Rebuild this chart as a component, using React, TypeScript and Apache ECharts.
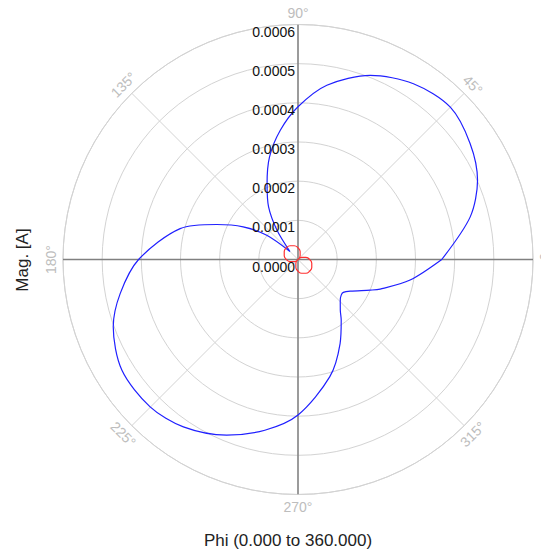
import React, { useEffect, useRef } from "react";
import * as echarts from "echarts";

// Phi (degrees) and magnitude [A] of the blue trace
const bluePhi = [0, 13.9, 23.8, 34, 45, 56.7, 68.6, 80.6, 90, 97.8, 105.5, 112.2, 119.2, 125.6, 135, 142.2, 149.2, 156.7, 165.3, 180, 190.8, 200, 212.1, 224.9, 235.6, 247.9, 259, 270, 285.2, 296.6, 305.5, 310, 316, 320.5, 324, 328.8, 337, 340.2, 349.6, 360];
const blueMag = [0.000367, 0.000453, 0.000501, 0.00053, 0.00055, 0.000537, 0.000505, 0.000451, 0.00039, 0.000333, 0.000272, 0.000209, 0.000154, 0.000092, 0.000029, 0.000101, 0.000163, 0.000226, 0.000311, 0.000407, 0.000462, 0.000502, 0.000531, 0.000533, 0.000518, 0.000484, 0.000444, 0.000397, 0.00031, 0.00024, 0.00019, 0.000168, 0.00015, 0.000143, 0.000143, 0.000156, 0.0002, 0.000223, 0.000291, 0.000367];

// Phi (degrees) and magnitude [A] of the red trace
const redPhi = [0, 15, 30, 45, 60, 75, 90, 105, 120, 135, 150, 165, 180, 195, 210, 225, 240, 255, 270, 285, 300, 315, 330, 345, 360];
const redMag = [0.0000297, 0.000021, 0.0000109, 0, 0.0000109, 0.000021, 0.0000297, 0.0000364, 0.0000406, 0.000042, 0.0000406, 0.0000364, 0.0000297, 0.000021, 0.0000109, 0, 0.0000109, 0.000021, 0.0000297, 0.0000364, 0.0000406, 0.000042, 0.0000406, 0.0000364, 0.0000297];

const angleTicks = [0, 45, 90, 135, 180, 225, 270, 315];
const angleTickLabels = ["0°", "45°", "90°", "135°", "180°", "225°", "270°", "315°"];
const radiusMax = 0.0006;
const radiusStep = 0.0001;

const xTitle = "Phi (0.000 to 360.000)";
const yTitle = "Mag. [A]";

const FONT = "'Liberation Sans', Arial, Helvetica, sans-serif";
const CX = 298;
const CY = 259.5;
const R = 235;

export default function App() {
  const ref = useRef<HTMLDivElement>(null);
  useEffect(() => {
    if (!ref.current) return;
    const chart = echarts.init(ref.current, undefined, { renderer: "svg" });
    const labelDist = R + 12;
    const angleGraphics = angleTicks.map((a, i) => {
      const rad = (a * Math.PI) / 180;
      const rotDeg = a <= 180 ? a - 90 : a - 270;
      return {
        type: "text",
        x: CX + labelDist * Math.cos(rad),
        y: CY - labelDist * Math.sin(rad),
        rotation: (rotDeg * Math.PI) / 180,
        silent: true,
        style: {
          text: angleTickLabels[i],
          fill: "#bdbdbd",
          font: `14px ${FONT}`,
          align: "center",
          verticalAlign: "middle",
        },
      };
    });
    const option: any = {
      animation: false,
      backgroundColor: "#ffffff",
      polar: [
        { center: [CX, CY], radius: R },
        { center: [CX, CY], radius: R },
      ],
      angleAxis: [
        {
          polarIndex: 0,
          type: "value",
          min: 0,
          max: 360,
          interval: 45,
          startAngle: 0,
          clockwise: false,
          axisLine: { show: true, lineStyle: { color: "#d3d3d3", width: 1 } },
          axisTick: { show: false },
          axisLabel: { show: false },
          splitLine: { show: true, lineStyle: { color: "#d3d3d3", width: 1 } },
        },
        {
          polarIndex: 1,
          type: "value",
          min: 0,
          max: 360,
          startAngle: 90,
          clockwise: false,
          axisLine: { show: false },
          axisTick: { show: false },
          axisLabel: { show: false },
          splitLine: { show: false },
        },
      ],
      radiusAxis: [
        {
          polarIndex: 0,
          type: "value",
          min: 0,
          max: radiusMax,
          interval: radiusStep,
          axisLine: { show: false },
          axisTick: { show: false },
          axisLabel: { show: false },
          splitLine: { show: true, lineStyle: { color: "#d3d3d3", width: 1 } },
        },
        {
          polarIndex: 1,
          type: "value",
          min: 0,
          max: radiusMax,
          interval: radiusStep,
          z: 10,
          axisLine: { show: false },
          axisTick: { show: false },
          splitLine: { show: false },
          axisLabel: {
            show: true,
            margin: 3,
            color: "#111",
            fontSize: 14,
            fontFamily: FONT,
            verticalAlign: "top",
            formatter: (v: number) => v.toFixed(4),
          },
        },
      ],
      series: [
        {
          type: "line",
          coordinateSystem: "polar",
          polarIndex: 0,
          data: [[radiusMax, 0], [0, 0], [radiusMax, 180]],
          showSymbol: false,
          silent: true,
          lineStyle: { color: "#808080", width: 1.5 },
          z: 1,
        },
        {
          type: "line",
          coordinateSystem: "polar",
          polarIndex: 0,
          data: [[radiusMax, 90], [0, 90], [radiusMax, 270]],
          showSymbol: false,
          silent: true,
          lineStyle: { color: "#808080", width: 1.5 },
          z: 1,
        },
        {
          type: "line",
          coordinateSystem: "polar",
          polarIndex: 0,
          data: bluePhi.map((p, i) => [blueMag[i], p]),
          showSymbol: false,
          smooth: 0.3,
          lineStyle: { color: "#2020ff", width: 1.2 },
          z: 3,
        },
        {
          type: "line",
          coordinateSystem: "polar",
          polarIndex: 0,
          data: redPhi.map((p, i) => [redMag[i], p]),
          showSymbol: false,
          smooth: true,
          lineStyle: { color: "#ff3030", width: 1.2 },
          z: 4,
        },
      ],
      graphic: [
        ...angleGraphics,
        {
          type: "text",
          x: 288,
          y: 540,
          silent: true,
          style: {
            text: xTitle,
            fill: "#222",
            font: `17px ${FONT}`,
            align: "center",
            verticalAlign: "middle",
          },
        },
        {
          type: "text",
          x: 22,
          y: 260,
          rotation: Math.PI / 2,
          silent: true,
          style: {
            text: yTitle,
            fill: "#222",
            font: `17px ${FONT}`,
            align: "center",
            verticalAlign: "middle",
          },
        },
      ],
    };
    chart.setOption(option);
    return () => chart.dispose();
  }, []);
  return (
    <div
      ref={ref}
      style={{ position: "absolute", left: 0, top: 0, width: 541, height: 550 }}
    />
  );
}
